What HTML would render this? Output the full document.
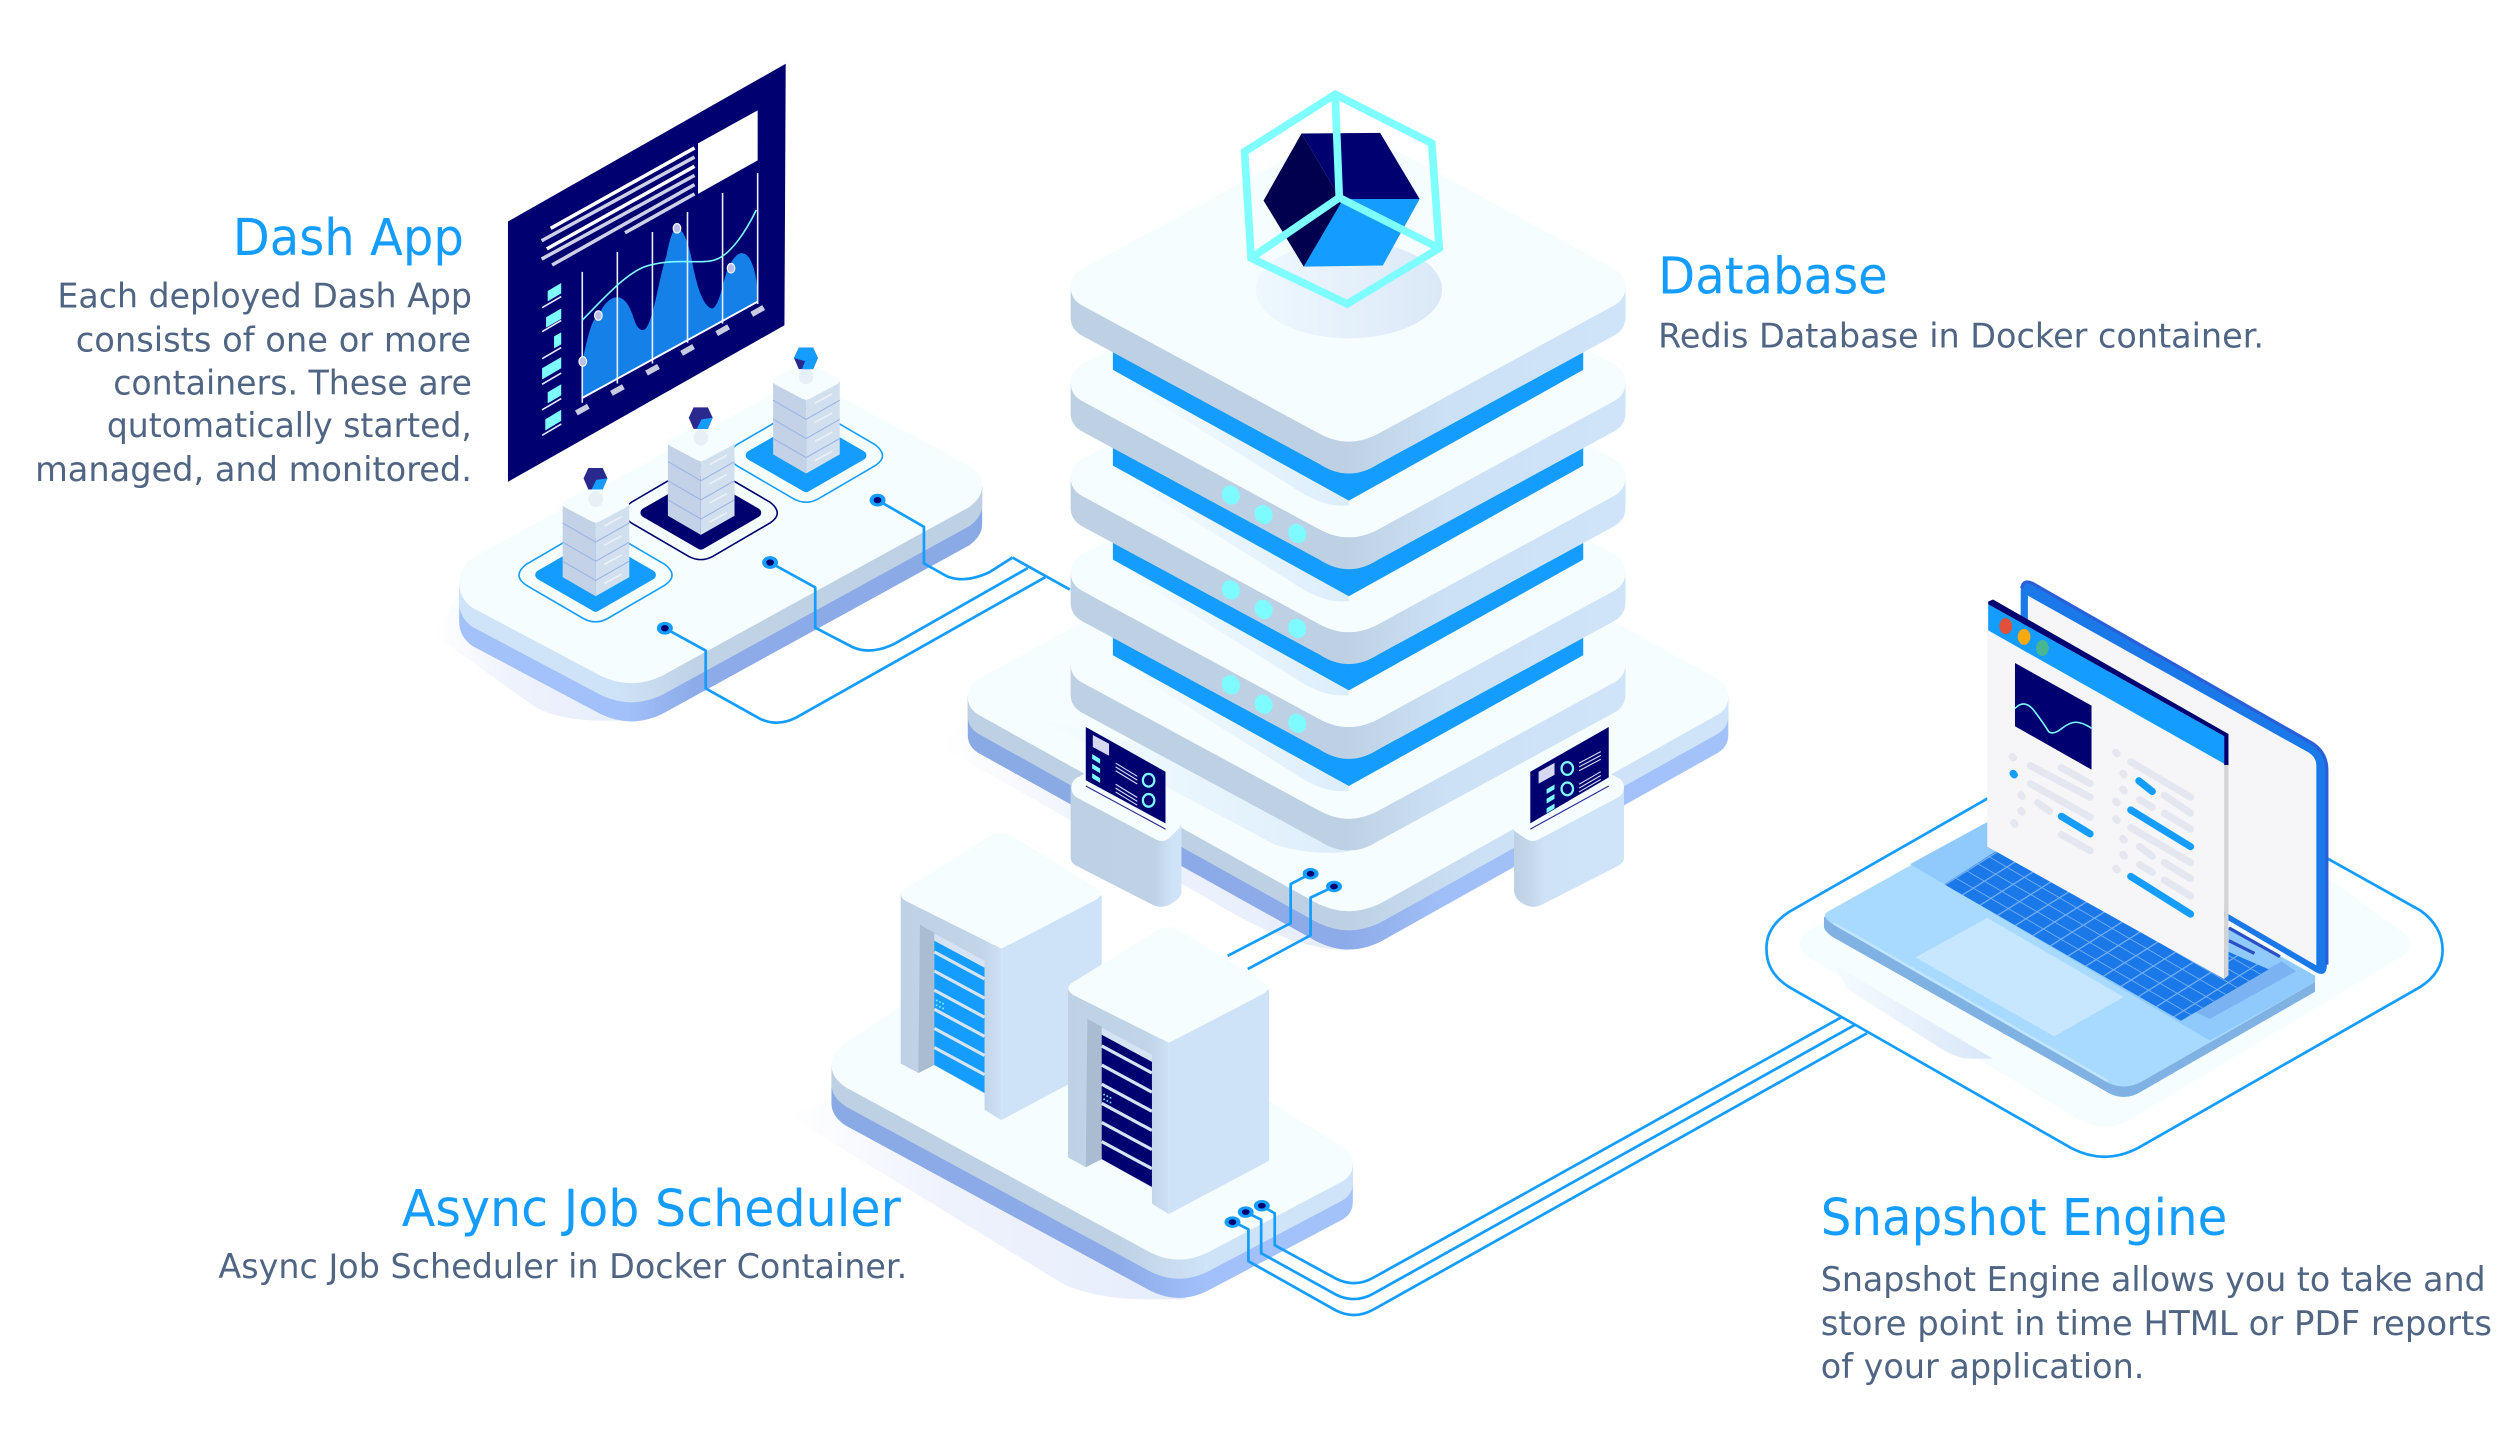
<!DOCTYPE html>
<html lang="en"><head><meta charset="utf-8"><title>Architecture diagram</title>
<style>
html,body{margin:0;padding:0;background:#fff;width:2500px;height:1434px;overflow:hidden}
svg{display:block}
.h{font-family:"DejaVu Sans","Liberation Sans",sans-serif;font-size:32px;fill:#149dff}
.p{font-family:"DejaVu Sans","Liberation Sans",sans-serif;font-size:21.4px;fill:#4f6583}
.w{fill:none;stroke:#149dff;stroke-width:1.7;stroke-linejoin:round}
.g{stroke:#e4e6f0;stroke-width:4.5;stroke-linecap:round;fill:none}
.b{stroke:#149dff;stroke-width:4.5;stroke-linecap:round;fill:none}
</style></head><body>
<svg xmlns="http://www.w3.org/2000/svg" width="2500" height="1434" viewBox="0 0 1568 899.4" preserveAspectRatio="none">
<defs>
<linearGradient id="sideDB" x1="0" x2="1" y1="0" y2="0"><stop offset="0" stop-color="#bed0e3"/><stop offset=".5" stop-color="#bed1e4"/><stop offset=".68" stop-color="#cde1f6"/><stop offset="1" stop-color="#d0e4f9"/></linearGradient>
<linearGradient id="blueDB" x1="0" x2="1" y1="0" y2="0"><stop offset="0" stop-color="#8aaae6"/><stop offset=".5" stop-color="#8cabe8"/><stop offset=".62" stop-color="#a0bff8"/><stop offset="1" stop-color="#a4c2fa"/></linearGradient>
<linearGradient id="sideD" x1="0" x2="1" y1="0" y2="0"><stop offset="0" stop-color="#d0e4f9"/><stop offset=".3" stop-color="#cfe3f8"/><stop offset=".45" stop-color="#c0d2e5"/><stop offset="1" stop-color="#bed0e3"/></linearGradient>
<linearGradient id="blueD" x1="0" x2="1" y1="0" y2="0"><stop offset="0" stop-color="#a4c2fa"/><stop offset=".32" stop-color="#a2c0fa"/><stop offset=".45" stop-color="#8cabe8"/><stop offset="1" stop-color="#8aaae6"/></linearGradient>
<linearGradient id="sideA" x1="0" x2="1" y1="0" y2="0"><stop offset="0" stop-color="#bed0e3"/><stop offset=".55" stop-color="#bfd1e4"/><stop offset=".72" stop-color="#cfe3f8"/><stop offset="1" stop-color="#d0e4f9"/></linearGradient>
<linearGradient id="blueA" x1="0" x2="1" y1="0" y2="0"><stop offset="0" stop-color="#8aaae6"/><stop offset=".55" stop-color="#8cabe8"/><stop offset=".72" stop-color="#a2c0fa"/><stop offset="1" stop-color="#a4c2fa"/></linearGradient>
<linearGradient id="shd" x1="0" x2="1" y1="0" y2="0"><stop offset="0" stop-color="#f6fdff"/><stop offset="1" stop-color="#dcedfb"/></linearGradient>
<linearGradient id="shL" x1="0" x2="1" y1="0" y2="0"><stop offset="0" stop-color="#ffffff"/><stop offset=".4" stop-color="#eef2fd"/><stop offset="1" stop-color="#e6edfb"/></linearGradient>
<linearGradient id="ell" x1="0" x2="1" y1="0" y2="0"><stop offset="0" stop-color="#eff8fe"/><stop offset="1" stop-color="#dbe8f7"/></linearGradient>
<linearGradient id="kL" x1="0" x2="1" y1="0" y2="0"><stop offset="0" stop-color="#bed0e3"/><stop offset=".75" stop-color="#bfd1e4"/><stop offset=".92" stop-color="#cfe3f8"/><stop offset="1" stop-color="#d0e4f9"/></linearGradient>
<linearGradient id="kR" x1="0" x2="1" y1="0" y2="0"><stop offset="0" stop-color="#bed0e3"/><stop offset=".14" stop-color="#c4d6e9"/><stop offset=".28" stop-color="#cfe3f8"/><stop offset="1" stop-color="#d0e4f9"/></linearGradient>
<linearGradient id="wall" x1="0" x2="1" y1="0" y2="0"><stop offset="0" stop-color="#bfd1e4"/><stop offset=".8" stop-color="#c2d4e7"/><stop offset="1" stop-color="#cde0f5"/></linearGradient>
<linearGradient id="lapShadow" x1="0" x2="1" y1="0" y2="0"><stop offset="0" stop-color="#f5fbff"/><stop offset="1" stop-color="#d9e6f9"/></linearGradient>
<pattern id="keys" width="1" height="1" patternUnits="userSpaceOnUse" patternTransform="matrix(11 6.4 7 -4.4 1219 555)"><rect width="1" height="1" fill="#1a78e8"/><path d="M0 0H1M0 0V1" stroke="#74aef0" stroke-width=".14" fill="none"/></pattern>

<g id="slab"><path d="M671.5 180v19q0 8 8 12l148 80q18.5 12 37 0l147 -80q8 -4 8 -12v-19Z" fill="url(#sideDB)"/>
<path d="M671.5 180q0 8 8 12l148 80q18.5 10 37 0l147 -80q8 -4 8 -12q0 -8 -8 -12l-147 -80q-18.5 -10 -37 0l-148 80q-8 4 -8 12Z" fill="#f6fdff"/></g>
<g id="band"><path d="M698 232L810 302Q830 316 846 314V280Z" fill="url(#shd)" transform="translate(0,3)"/>
<path d="M698 219V232L846 314L993 232V219L846 290Z" fill="#149dff"/></g>
<g id="leds" fill="#7dfbff"><ellipse cx="772" cy="310.5" rx="5.5" ry="6.2" transform="rotate(-30 772 310.5)"/><ellipse cx="792.5" cy="322.7" rx="5.5" ry="6.2" transform="rotate(-30 792.5 322.7)"/><ellipse cx="813.6" cy="334.6" rx="5.5" ry="6.2" transform="rotate(-30 813.6 334.6)"/></g>

<g id="tower">
<path d="M352.9 316L373.6 328V374L352.9 362Z" fill="#c3d2e6"/>
<path d="M373.6 328L394.7 316V362L373.6 374Z" fill="#d2dfee"/>
<path d="M352.9 328L373.6 340L394.7 328M352.9 340L373.6 352L394.7 340M352.9 352L373.6 364L394.7 352" fill="none" stroke="#9eb4e8" stroke-width=".7"/>
<path d="M379 330L390 324M379 342L390 336M379 354L390 348M379 366L390 360" stroke="#e9f0f8" stroke-width="1.1" fill="none"/>
<path d="M354 314L371 305Q373.6 304 376 305L393 314Q396 316 393 318L376 327Q373.6 328 371 327L354 318Q351 316 354 314Z" fill="#f5fdff"/>
<ellipse cx="373.6" cy="313" rx="4.5" ry="5" fill="#e7eff7"/>
</g>

<g id="shell">
<path d="M628 595L691 561.4V669L628 702.5Z" fill="#cfe3f8"/>
<path d="M564.9 560L628 595V702.5L617.5 696V686L586 668L576 673L564.9 667Z" fill="url(#wall)"/>
<path d="M577 580L586 585V668L576 673Z" fill="#a9bcd1"/>
<path d="M586 585.5L617.5 602.5V607L586 590Z" fill="#d5e3f4"/>
<path d="M568 557L620 525Q628 520 636 525L688 557Q692 561 688 564L636 591Q628 596 620 591L568 565Q562 561 568 557Z" fill="#f6fdff"/>
</g>
<path id="stripes" d="M586 597L617.5 614M586 609L617.5 626M586 621L617.5 638M586 633L617.5 650M586 645L617.5 662M586 657L617.5 674" stroke="#d5e3f4" stroke-width="2" fill="none"/>
</defs>

<rect width="1568" height="900" fill="#fff"/>

<!-- LAPTOP -->
<path d="M1250 522L1135 583Q1122 592 1135 601L1300 700Q1320 713 1340 700L1505 601Q1518 592 1505 583L1459 550V600Z" fill="#f5fdff"/>
<path class="w" d="M1248 500L1122 572Q1107 582 1108 596Q1108 610 1122 619L1299 720Q1320 731 1341 720L1518 619Q1532 610 1532 596Q1532 581 1518 571L1459 538"/>
<path d="M1152 606L1250 664H1236Q1228 664 1218 658L1158 620Z" fill="url(#lapShadow)"/>
<path d="M1144 575V581Q1144 584 1150 588L1320 684Q1332 692 1344 684L1452 622V612Z" fill="#7fb1e3"/>
<path d="M1146 572L1264 506L1452 612V616L1344 678Q1332 685 1320 678L1150 580Q1142 575 1146 572Z" fill="#a8d9ff"/>
<path d="M1198 542L1386 652.6L1452 616V612L1264 506Z" fill="#90c9fb"/>
<path d="M1150 579L1322 678" stroke="#c2e5ff" stroke-width="1.5" fill="none"/>
<path d="M1375.4 634L1386 639L1440 609.2L1431 603Z" fill="#7ab2f2"/>
<path d="M1219.4 554.7L1252.4 533.6L1423 608L1367.9 640.2Z" fill="url(#keys)"/>
<path d="M1246.4 575.7L1201.4 600.5L1288.4 650L1332 625.3Z" fill="#c6e7ff"/>
<path d="M1267.4 372Q1267 363 1275 366L1450 466Q1459.4 472 1459.4 483V605Q1459.4 613 1453 610L1267 500Z" fill="#1a78e8"/>
<path d="M1268 369Q1269 363 1275 366L1450 466Q1459.4 472 1459.4 483V605" fill="none" stroke="#2a5fd8" stroke-width="2"/>
<path d="M1271.9 373.6L1448 472Q1452.8 475 1452.8 480V605.5L1271.9 500Z" fill="#f6f6f8"/>
<path d="M1398 582L1430 600" stroke="#2a50c8" stroke-width="2"/>
<path d="M1398 590L1414 598" stroke="#2a50c8" stroke-width="2"/>
<path d="M1246.4 395L1395 479V614L1246.4 531Z" fill="#f6f6f8"/>
<path d="M1395 479H1397.7V611.7L1395 614Z" fill="#d4d4d4"/>
<path d="M1247 379L1395 461.7V479L1247 395.4Z" fill="#149dff"/>
<path d="M1247 379V377.3L1250 376L1397.7 460.4V479.8H1395V461.7Z" fill="#000070"/>
<ellipse cx="1258" cy="392.7" rx="4" ry="5" fill="#e0503a"/>
<ellipse cx="1269.5" cy="399.4" rx="4" ry="5" fill="#fca90f"/>
<ellipse cx="1281" cy="406.4" rx="4" ry="5" fill="#48b692"/>
<path d="M1263.8 415.8L1311.8 442.6V482.7L1263.8 455.5Z" fill="#000070"/>
<path d="M1263.8 444.3Q1270 438 1276 446T1285 459Q1288 461 1293 457T1302 453T1311.8 456.7" fill="none" stroke="#7dfbff" stroke-width="1"/>
<g>
<path class="g" d="M1262 474.4l.8 1M1267.5 498.5l.8 1M1267.5 508.4l.8 1M1263 516l.8 1M1327 471.8l.8 1M1331.5 485l.8 1M1331.5 495l.8 1M1327 502.5l.8 1M1327 513.6l.8 1M1331.5 526l.8 1M1331.5 536l.8 1M1327 544.6l.8 1"/>
<path class="b" d="M1262.6 485l.8 1M1341.5 489.7L1349.9 496.4M1292.9 512L1310.9 523M1336.4 508L1373.9 531M1336.4 549.7L1373.9 573.3"/>
<path class="g" d="M1292.9 481.5L1310.9 491.4M1273.4 480.2L1310.9 500M1273.4 491.5L1310.9 512.5M1278 503.5L1285.4 508.8M1292.9 523.5L1310.9 533.5M1336.4 477.8L1373.9 500M1342 501.5L1349.9 506.3M1357.5 498.8L1373.9 510M1357.5 510L1373.9 520M1336.4 519L1373.9 541M1342 531L1349.9 537M1357.5 541L1373.9 551M1342 542.3L1349.9 547.2M1357.5 552L1373.9 562"/>
</g>

<!-- DASH -->
<path d="M288 372L272 398L335 443Q350 452 380 452H400Z" fill="url(#shL)"/>
<path d="M288 366v24q0 9 8 15l81 43q19 9 38 0l193 -106q8 -6 8 -13v-24Z" fill="url(#blueD)"/>
<path d="M288 366v12q0 9 8 15l81 43q19 9 38 0l193 -106q8 -6 8 -13v-12Z" fill="url(#sideD)"/>
<path d="M288 366q0 9 8 15l81 43q19 9 38 0l193 -106q8 -6 8 -13q0 -8 -8 -13l-90 -48q-14 -7 -28 0l-194 106q-8 6 -8 16Z" fill="#f6fdff"/>

<polygon points="338.7,360.6 373.6,340.5 408.4,360.6 373.6,380.7" fill="#149dff" stroke="#149dff" stroke-width="6" stroke-linejoin="round"/>
<path id="ring1" d="M330 354Q321 361 330 367L366 388Q373.6 392 381 388L417 367Q426 361 417 354L381 333Q373.6 329 366 333Z" fill="none" stroke="#149dff" stroke-width="1"/>
<g transform="translate(66,-39)"><polygon points="338.7,360.6 373.6,340.5 408.4,360.6 373.6,380.7" fill="#00006e" stroke="#00006e" stroke-width="6" stroke-linejoin="round"/>
<path d="M330 354Q321 361 330 367L366 388Q373.6 392 381 388L417 367Q426 361 417 354L381 333Q373.6 329 366 333Z" fill="none" stroke="#00006e" stroke-width="1"/></g>
<g transform="translate(132,-75)"><polygon points="338.7,360.6 373.6,340.5 408.4,360.6 373.6,380.7" fill="#149dff" stroke="#149dff" stroke-width="6" stroke-linejoin="round"/>
<path d="M330 354Q321 361 330 367L366 388Q373.6 392 381 388L417 367Q426 361 417 354L381 333Q373.6 329 366 333Z" fill="none" stroke="#149dff" stroke-width="1"/></g>

<!-- dash panel -->
<polygon points="318.6,138.9 492.8,40 492,204 318.6,302.2" fill="#000070"/>
<polygon points="437.8,89.9 475.2,69.2 475.2,100.6 437.8,121.6" fill="#fff"/>
<g fill="none" stroke-width="2.2">
<path d="M345.4 143.2L435.6 92.8" stroke="#fff"/>
<path d="M339.7 151L435.6 98.5" stroke="#cdd0e6"/>
<path d="M343 156.1L435.6 104.3" stroke="#fff"/>
<path d="M339.7 162.5L435.6 110" stroke="#cdd0e6"/>
<path d="M346.3 166.2L435.6 115.8" stroke="#cdd0e6"/>
<path d="M392 146L435.6 121.6" stroke="#cdd0e6"/>
</g>
<path d="M365.2 226.7C369 210 371 200 375.3 197.9C379 190 383 186.4 387 186.4C393 186.4 396 195 398 201C400 207 403 208 405 206C410 201 413 175 418 160.5C420 150 422 143.2 424.6 143.2C428 143.2 431 150 433.4 160.5C436 175 440 192 446.6 193.6C452 192 454 172 457.6 166.2C461 160 464 158 466.4 159C471 160 474 170 475 180.6V189.3L365 249.7Z" fill="#1480e8"/>
<path d="M365.2 170.5V252.6M387.2 158V240.5M409.2 145.5V228M431.2 133V215M453.2 121V203M475.2 108.6V190.7" stroke="#e8eefc" stroke-width="1" fill="none"/>
<path d="M365 249.7L475 189.3" stroke="#fff" stroke-width="1.2" fill="none"/>
<path d="M365.2 200.8C378 188 395 168 409 166C425 162 440 166 448.8 162.8C458 160 468 145 474.3 131.7" fill="none" stroke="#7dfbff" stroke-width="1"/>
<g fill="#b9c0e6" stroke="#fff" stroke-width=".7"><ellipse cx="365.5" cy="226.7" rx="2.4" ry="3"/><ellipse cx="375.3" cy="197.9" rx="2.4" ry="3"/><ellipse cx="424.6" cy="143.2" rx="2.4" ry="3"/><ellipse cx="458.5" cy="168.2" rx="2.4" ry="3"/></g>
<path d="M361.5 259L369 254.8M383.5 246.7L391 242.5M405.5 234L413 229.8M427.5 221.6L435 217.4M449.5 209.2L457 205M471.5 197.1L479 192.9" stroke="#c8cce0" stroke-width="3.5" fill="none"/>
<g fill="#7dfbff">
<polygon points="343.5,182.5 352,177.5 352,184 343.5,189"/><polygon points="342.5,199 352,193.5 352,200 342.5,205.5"/><polygon points="347.5,211 352,208.5 352,216 347.5,218.5"/><polygon points="340,231 352,224 352,231 340,238"/><polygon points="343.5,246 352,241 352,248 343.5,253"/><polygon points="342,263 352,257 352,264 342,270"/>
</g>
<path d="M340 193L352 186M340 208L352 201M340 225L352 218M340 241L352 234M340 257L352 250M340 273L352 266" stroke="#e6ecfa" stroke-width="1" fill="none"/>

<use href="#tower"/>
<use href="#tower" transform="translate(66,-38.5)"/>
<use href="#tower" transform="translate(132,-77)"/>
<!-- small cubes -->
<g><polygon points="369,293.5 378,293.5 381,300 378,307 369,307 366,300" fill="#2a2a8e"/><polygon points="374,301 381,300 378,307 371,307" fill="#149dff"/></g>
<g transform="translate(66,-38)"><polygon points="369,293.5 378,293.5 381,300 378,307 369,307 366,300" fill="#2a2a8e"/><polygon points="374,301 381,300 378,307 371,307" fill="#149dff"/></g>
<g transform="translate(132,-75.5)"><polygon points="369,293.5 378,293.5 381,300 378,307 369,307 366,300" fill="#2a2a8e"/><polygon points="369,293.5 378,293.5 381,300 373,302 366,300" fill="#149dff"/><polygon points="373,302 381,300 378,307 371,307" fill="#149dff"/></g>

<!-- dash wires -->
<path class="w" d="M417 394L442.6 408V431.8L477 451Q488 456 499.5 450L655.6 362"/>
<path class="w" d="M483 352.8L511.3 368.4V393.7L534.6 405.8Q546 411 561 403.8L644.6 356.3"/>
<path class="w" d="M550.4 313.7L579.5 330.4V353.4L594 361.5Q605 366 620.4 359L635 349.7"/>
<path class="w" d="M635 349.7L671 369.8"/>
<g><ellipse cx="417" cy="394" rx="5" ry="4" fill="#149dff"/><ellipse cx="417" cy="394" rx="2.4" ry="2" fill="#00006e"/><ellipse cx="483" cy="352.8" rx="5" ry="4" fill="#149dff"/><ellipse cx="483" cy="352.8" rx="2.4" ry="2" fill="#00006e"/><ellipse cx="550.4" cy="313.7" rx="5" ry="4" fill="#149dff"/><ellipse cx="550.4" cy="313.7" rx="2.4" ry="2" fill="#00006e"/></g>

<!-- DATABASE -->
<path d="M607 450L590 468L760 565Q810 596 846 596Z" fill="url(#shL)"/>
<path d="M607 437v24q0 8 8 12l210 117q21 11 42 0l209 -117q8 -4 8 -12v-24Z" fill="url(#blueDB)"/>
<path d="M607 437v12q0 8 8 12l210 117q21 11 42 0l209 -117q8 -4 8 -12v-12Z" fill="url(#sideDB)"/>
<path d="M607 437q0 8 8 12l210 117q21 11 42 0l209 -117q8 -4 8 -12q0 -8 -8 -12l-209 -115q-21 -11 -42 0l-210 115q-8 4 -8 12Z" fill="#f6fdff"/>
<path d="M650 450L800 530Q825 537 846 534V500Z" fill="url(#shd)"/>
<path class="w" d="M822 548L809.5 554.5V579L770 599.5"/>
<path class="w" d="M836.7 556L822 563V586.6L782.6 607.8"/>
<g><ellipse cx="822" cy="548" rx="5" ry="3.6" fill="#149dff"/><ellipse cx="822" cy="548" rx="2.4" ry="1.8" fill="#00006e"/><ellipse cx="836.7" cy="556" rx="5" ry="3.6" fill="#149dff"/><ellipse cx="836.7" cy="556" rx="2.4" ry="1.8" fill="#00006e"/></g>

<use href="#slab" transform="translate(0,236.5)"/>
<use href="#band" transform="translate(0,179)"/>
<use href="#slab" transform="translate(0,179)"/>
<use href="#leds" transform="translate(0,119)"/>
<use href="#band" transform="translate(0,119)"/>
<use href="#slab" transform="translate(0,119.5)"/>
<use href="#leds" transform="translate(0,59.5)"/>
<use href="#band" transform="translate(0,60)"/>
<use href="#slab" transform="translate(0,60)"/>
<use href="#leds"/>
<use href="#band"/>
<use href="#slab"/>

<!-- cube -->
<ellipse cx="846" cy="181.6" rx="58.5" ry="30.6" fill="url(#ell)"/>
<polygon points="816.3,83.7 842.5,127.6 817.7,167.2 792.5,125.8" fill="#00004f"/>
<polygon points="816.3,83.7 865.6,83.3 890.4,124.8 842.5,127.6" fill="#000070"/>
<polygon points="842.5,124.8 890.4,124.8 867.3,166.5 817.7,167.2" fill="#149dff"/>
<g fill="none" stroke="#7efeff" stroke-width="4.8" stroke-linejoin="miter">
<polygon points="837.4,59.2 898,89.8 902.7,155.7 845,190.6 784.7,161.8 780.6,95.2"/>
<path d="M837.4 59.2L840 124L784.7 161.8M840 124L902.7 155.7"/>
</g>

<!-- kiosks -->
<path d="M671.5 492V538Q671.5 541 675 543L722 567Q729 571 736 566Q741 563 741 559V518Z" fill="url(#kL)"/>
<path d="M672 494Q672 489 677 487L690 480L738 512Q743 517 738 521L733 526Q729 529 724 526L675 500Q672 498 672 494Z" fill="#f6fdff"/>
<polygon points="681,456 731,484 731,516.4 681,489.4" fill="#000070"/>
<path d="M681 493L731 520" stroke="#2a2a8e" stroke-width=".7" fill="none"/>
<polygon points="685.4,461 695.6,466.5 695.6,474 685.4,468.5" fill="#d5d8ee"/>
<g fill="#7dfbff"><polygon points="685,473 690,476 690,479 685,476"/><polygon points="685,479 690,482 690,485 685,482"/><polygon points="685,485 690,488 690,491 685,488"/></g>
<path d="M699.7 478.6L713.3 486.9M699.7 481L713.3 489.3M699.7 483.4L713.3 491.7M699.7 491.9L713.3 500.2M699.7 494.3L713.3 502.6M699.7 496.7L713.3 505" stroke="#d7dcf0" stroke-width=".7" fill="none"/>
<g fill="none" stroke="#7dfbff" stroke-width="1.4"><ellipse cx="720.4" cy="489.4" rx="3.6" ry="4"/><ellipse cx="720.4" cy="502" rx="3.6" ry="4"/></g>

<path d="M949.6 518V558Q949.6 563 954 566Q961 571 968 567L1015 543Q1018.6 541 1018.6 538V492Z" fill="url(#kR)"/>
<path d="M949.6 521Q947 517 952 512L1000 480L1013 487Q1018.6 489 1018.6 494Q1018.6 498 1015 500L966 526Q961 529 957 526Z" fill="#f6fdff"/>
<polygon points="959.8,484 1009,456 1009,487.6 959.8,516.4" fill="#000070"/>
<path d="M959.8 520L1009 493" stroke="#2a2a8e" stroke-width=".7" fill="none"/>
<polygon points="965,484 975,478.5 975,486 965,491.5" fill="#d5d8ee"/>
<g fill="#7dfbff"><polygon points="970,495 975,492 975,495 970,498"/><polygon points="970,501 975,498 975,501 970,504"/><polygon points="970,507 975,504 975,507 970,510"/></g>
<path d="M990.4 478.6L1004 471.4M990.4 481L1004 473.8M990.4 483.4L1004 476.2M990.4 491.9L1004 484M990.4 494.3L1004 486.4M990.4 496.7L1004 488.8" stroke="#d7dcf0" stroke-width=".7" fill="none"/>
<g fill="none" stroke="#7dfbff" stroke-width="1.4"><ellipse cx="983" cy="482" rx="3.6" ry="4"/><ellipse cx="983" cy="494.8" rx="3.6" ry="4"/></g>

<!-- ASYNC -->
<path d="M521 690L495 700L668 806Q690 815 720 815H745Z" fill="url(#shL)"/>
<path d="M521.5 668v24q0 8 9 14l190 103q19 10 38 0l81.5 -43q8.5 -4 8.5 -12v-24Z" fill="url(#blueA)"/>
<path d="M521.5 668v12q0 8 9 14l190 103q19 10 38 0l81.5 -43q8.5 -4 8.5 -12v-12Z" fill="url(#sideA)"/>
<path d="M521.5 668q0 8 9 14l190 103q19 10 38 0l81.5 -43q8.5 -4 8.5 -12q0 -8 -8.5 -12l-190 -118q-19 -10 -38 0l-81.5 54q-9 6 -9 14Z" fill="#f6fdff"/>

<use href="#shell"/>
<path d="M586 590L617.5 607V685.4L586 668Z" fill="#149dff"/>
<use href="#stripes"/>
<g fill="#7dfbff"><rect x="587" y="627" width="1" height="1"/><rect x="589" y="628" width="1" height="1"/><rect x="591" y="629" width="1" height="1"/><rect x="587" y="630" width="1" height="1"/><rect x="589" y="631" width="1" height="1"/><rect x="591" y="632" width="1" height="1"/></g>
<use href="#shell" transform="translate(105,59)"/>
<path d="M691 649L722.5 666V744.4L691 727Z" fill="#000070"/>
<use href="#stripes" transform="translate(105,59)"/>
<g fill="#7dfbff" transform="translate(105,59)"><rect x="587" y="627" width="1" height="1"/><rect x="589" y="628" width="1" height="1"/><rect x="591" y="629" width="1" height="1"/><rect x="587" y="630" width="1" height="1"/><rect x="589" y="631" width="1" height="1"/><rect x="591" y="632" width="1" height="1"/></g>

<!-- async wires -->
<path class="w" d="M791 756L799.5 761V781L838 802Q850 808 862 801L1155 638"/>
<path class="w" d="M781 760L791 765V786L838 812Q850 818 862 811L1163 643"/>
<path class="w" d="M773 766L783 771V791L838 822Q850 828 862 821L1171 648"/>
<g><ellipse cx="791.4" cy="756.2" rx="5" ry="3.6" fill="#149dff"/><ellipse cx="791.4" cy="756.2" rx="2.4" ry="1.8" fill="#00006e"/><ellipse cx="781.3" cy="760.2" rx="5" ry="3.6" fill="#149dff"/><ellipse cx="781.3" cy="760.2" rx="2.4" ry="1.8" fill="#00006e"/><ellipse cx="773" cy="766.5" rx="5" ry="3.6" fill="#149dff"/><ellipse cx="773" cy="766.5" rx="2.4" ry="1.8" fill="#00006e"/></g>

<!-- TEXT -->
<text class="h" x="146" y="160" textLength="145" lengthAdjust="spacingAndGlyphs">Dash App</text>
<text class="p" x="36" y="193" textLength="260" lengthAdjust="spacingAndGlyphs">Each deployed Dash App</text>
<text class="p" x="47.5" y="220.4" textLength="248" lengthAdjust="spacingAndGlyphs">consists of one or more</text>
<text class="p" x="71" y="247.4" textLength="225" lengthAdjust="spacingAndGlyphs">containers. These are</text>
<text class="p" x="67" y="274.2" textLength="229" lengthAdjust="spacingAndGlyphs">qutomatically started,</text>
<text class="p" x="22" y="301.6" textLength="274" lengthAdjust="spacingAndGlyphs">managed, and monitored.</text>
<text class="h" x="1040" y="184" textLength="144" lengthAdjust="spacingAndGlyphs">Database</text>
<text class="p" x="1040" y="218" textLength="380" lengthAdjust="spacingAndGlyphs">Redis Database in Docker container.</text>
<text class="h" x="252" y="769" textLength="313" lengthAdjust="spacingAndGlyphs">Async Job Scheduler</text>
<text class="p" x="137" y="801.5" textLength="432" lengthAdjust="spacingAndGlyphs">Async Job Scheduler in Docker Container.</text>
<text class="h" x="1142" y="774.5" textLength="255" lengthAdjust="spacingAndGlyphs">Snapshot Engine</text>
<text class="p" x="1142" y="809.7" textLength="417" lengthAdjust="spacingAndGlyphs">Snapshot Engine allows you to take and</text>
<text class="p" x="1142" y="837.2" textLength="421" lengthAdjust="spacingAndGlyphs">store point in time HTML or PDF reports</text>
<text class="p" x="1142" y="864.4" textLength="203" lengthAdjust="spacingAndGlyphs">of your application.</text>
</svg>
</body></html>
